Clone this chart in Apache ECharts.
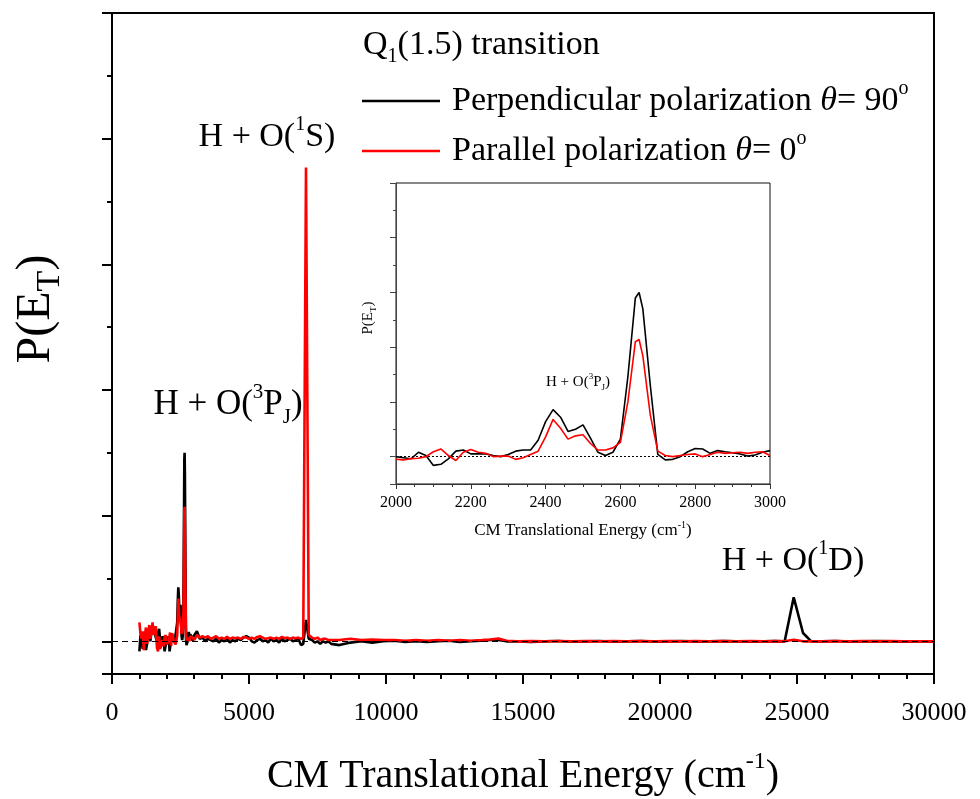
<!DOCTYPE html>
<html>
<head>
<meta charset="utf-8">
<script src="https://cdn.jsdelivr.net/npm/echarts@6/dist/echarts.min.js"></script>
<style>html,body{margin:0;padding:0;background:#fff}#c{width:980px;height:799px}</style>
</head>
<body>
<div id="c"></div>
<script>
// ---------------- data ----------------
const seriesNames = ['Perpendicular polarization', 'Parallel polarization'];

// 1000 - 1960 cm-1 (noisy onset)
const energyLow = [1000,1040,1080,1120,1160,1200,1240,1280,1320,1360,1400,1440,1480,1520,1560,1600,1640,1680,1720,1760,1800,1840,1880,1920,1960];
const perpLow   = [-0.08,0.05,0.02,-0.06,-0.02,0.06,-0.07,-0.02,0.10,0.06,0.00,0.08,0.13,0.10,0.09,0.03,0.00,0.07,0.10,0.00,-0.03,0.04,0.02,-0.08,-0.03];
const paraLow   = [0.15,0.06,0.02,0.08,-0.07,0.05,0.11,-0.02,0.06,0.13,0.02,0.08,0.15,0.05,0.10,0.12,-0.05,-0.08,0.04,-0.06,-0.05,0.01,-0.04,0.03,0.05];

// 2000 - 3000 cm-1 (region shown in the inset)
const energyInset = [2000,2020,2040,2060,2080,2100,2120,2140,2160,2180,2200,2220,2240,2260,2280,2300,2320,2340,2360,2380,2400,2420,2440,2460,2480,2500,2520,2540,2560,2580,2600,2620,2640,2650,2660,2680,2700,2720,2740,2760,2780,2800,2820,2840,2860,2880,2900,2920,2940,2960,2980,3000];
const perpInset   = [0,-0.01,-0.02,0.04,0.01,-0.08,-0.07,-0.02,0.05,0.06,0.025,0.025,0.025,0.01,0,0.02,0.05,0.06,0.06,0.15,0.32,0.43,0.36,0.23,0.25,0.29,0.17,0.04,0.01,0.04,0.16,0.73,1.45,1.5,1.35,0.65,0.02,-0.03,-0.025,0,0.045,0.075,0.07,0.03,0.055,0.045,0.036,0.025,0.005,0.015,0.04,0.055];
const paraInset   = [-0.024,-0.03,-0.018,-0.015,0,0.045,0.07,0.01,-0.035,0.04,0.065,0.04,0.03,0,0.005,0.005,-0.025,-0.01,0.02,0.05,0.18,0.34,0.26,0.16,0.19,0.2,0.12,0.06,0.06,0.08,0.13,0.5,1.05,1.07,0.92,0.38,0.05,0.01,0,0.01,0.02,0.025,0,0.02,0.04,0.03,0.035,0.04,0.03,0.04,0.045,0.01];

// 3100 - 8000 cm-1 (O(1S) channel)
const energyMid = [3100,3200,3300,3400,3500,3600,3700,3800,3900,4000,4100,4200,4300,4400,4500,4600,4700,4800,4900,5000,5100,5200,5300,5400,5500,5600,5700,5800,5900,6000,6100,6200,6300,6400,6500,6600,6700,6800,6900,6980,7080,7180,7300,7400,7500,7600,7700,7800,7900,8000];
const perpMid   = [0.08,0.02,0.03,0,0.02,0.01,0,0.02,-0.01,0.01,0,0.02,-0.01,0.01,0,0.02,0.01,0.03,0.04,0.03,0,-0.01,0.01,0.02,0,0.01,-0.01,0.02,0,0.01,-0.01,0.02,0,0.01,0.02,0,0.01,0.02,-0.03,-0.02,0.17,0.02,0.01,-0.01,0,-0.02,0,-0.01,0,-0.02];
const paraMid   = [0.05,0.03,0.04,0.03,0.04,0.02,0.03,0.04,0.02,0.03,0.02,0.035,0.02,0.03,0.025,0.03,0.02,0.035,0.03,0.02,0.03,0.02,0.035,0.04,0.03,0.02,0.025,0.03,0.02,0.03,0.02,0.035,0.025,0.03,0.02,0.03,0.025,0.03,0.02,0.03,3.77,0.05,0.03,0.02,0.03,0.01,0.02,0.02,0.01,0.01];

// 8300 - 30000 cm-1 (O(1D) channel)
const energyHigh = [8300,8700,9100,9500,9900,10300,10700,11100,11500,11900,12300,12700,13100,13500,13800,14100,14400,14800,15300,15800,16300,16800,17300,17800,18300,18800,19300,19800,20300,20800,21300,21800,22300,22800,23300,23800,24200,24550,24880,25220,25520,25900,26400,26900,27400,27900,28400,28900,29400,30000];
const perpHigh   = [-0.03,-0.01,0,-0.01,0,0.005,-0.005,0,-0.005,0,0.005,-0.005,0,0.005,0.01,0.01,0,0,-0.005,0,0.003,-0.003,0,0.003,-0.003,0,0.002,-0.002,0,0.002,-0.002,0,0.002,0,-0.002,0,0.002,0,0.35,0.066,0,0,0.002,-0.002,0,0.002,0,-0.002,0,0];
const paraHigh   = [0.01,0.02,0.01,0.015,0.01,0.01,0.005,0.01,0.005,0.01,0.005,0.01,0.005,0.01,0.015,0.022,0.005,0,0.002,0,0.003,0,0.002,0,0.002,0,0.002,0,0.002,0,0.002,0,0.002,0,0.002,0,0.002,0,0.013,0,0,0,0.002,0,0.002,0,0.002,0,0,0];

// axis ranges / ticks
const mainX = {min: 0, max: 30000, interval: 5000};
const mainY = {min: -0.26, max: 5};
const insetX = {min: 2000, max: 3000, interval: 200};
const insetY = {min: -0.25, max: 2.5};

// ---------------- build ----------------
function pairs(xs, ys) { return xs.map((x, i) => [x, ys[i]]); }
const perpAll = pairs(energyLow, perpLow).concat(pairs(energyInset, perpInset), pairs(energyMid, perpMid), pairs(energyHigh, perpHigh));
const paraAll = pairs(energyLow, paraLow).concat(pairs(energyInset, paraInset), pairs(energyMid, paraMid), pairs(energyHigh, paraHigh));

const FONT = 'Liberation Serif';
function rich(s, subRatio) {
  const r = subRatio || 0.6;
  return {
    a:   {fontFamily: FONT, fontSize: s, color: '#000', lineHeight: Math.round(s * 1.3), verticalAlign: 'middle'},
    p:   {fontFamily: FONT, fontSize: s, color: '#000', lineHeight: Math.round(s * 1.3), verticalAlign: 'middle', padding: [0, 0, 0, 7]},
    i:   {fontFamily: FONT, fontSize: s, color: '#000', fontStyle: 'italic', lineHeight: Math.round(s * 1.3), verticalAlign: 'middle'},
    sup: {fontFamily: FONT, fontSize: Math.round(s * 0.6), color: '#000', lineHeight: Math.round(s * 0.88), verticalAlign: 'top'},
    sub: {fontFamily: FONT, fontSize: Math.round(s * r), color: '#000', lineHeight: Math.round(s * 0.76), verticalAlign: 'bottom'}
  };
}
function txt(x, y, text, size, extra, subRatio) {
  return Object.assign({
    type: 'text', x: x, y: y, z: 100,
    style: {text: text, rich: rich(size, subRatio), align: 'center', verticalAlign: 'middle', textAlign: 'center', textVerticalAlign: 'middle'}
  }, extra || {});
}
const plain = v => String(v);

const chart = echarts.init(document.getElementById('c'), null, {renderer: 'canvas'});
const option = {
  animation: false,
  backgroundColor: '#fff',
  grid: [
    {left: 112, top: 13, width: 822, height: 661, show: true, borderColor: '#000', borderWidth: 2, backgroundColor: 'rgba(0,0,0,0)', containLabel: false, outerBoundsMode: 'none'},
    {left: 396, top: 183, width: 374, height: 301, show: true, borderColor: '#111', borderWidth: 1, backgroundColor: '#fff', z: 5, containLabel: false, outerBoundsMode: 'none'}
  ],
  legend: {
    left: 362, top: 79, orient: 'vertical', padding: 0,
    icon: 'rect', itemWidth: 78, itemHeight: 2.5, itemGap: 11,
    data: seriesNames,
    formatter: function (n) {
      return n === seriesNames[0]
        ? '{p|Perpendicular polarization }{i|θ}{a|= 90}{sup|o}'
        : '{p|Parallel polarization }{i|θ}{a|= 0}{sup|o}';
    },
    textStyle: {rich: rich(34)},
    selectedMode: false
  },
  xAxis: [
    {
      type: 'value', gridIndex: 0, min: mainX.min, max: mainX.max, interval: mainX.interval,
      axisLine: {show: true, onZero: false, lineStyle: {color: '#000', width: 2}},
      axisTick: {show: true, inside: false, length: 10, lineStyle: {color: '#000', width: 2}},
      minorTick: {show: true, splitNumber: 5, length: 5, lineStyle: {color: '#000', width: 2}},
      splitLine: {show: false},
      axisLabel: {fontFamily: FONT, fontSize: 26, color: '#000', margin: 26, formatter: plain},
      name: '{a|CM Translational Energy (cm}{sup|-1}{a|)}',
      nameLocation: 'middle', nameGap: 76,
      nameTextStyle: {rich: rich(40)}
    },
    {
      type: 'value', gridIndex: 1, min: insetX.min, max: insetX.max, interval: insetX.interval,
      axisLine: {show: true, onZero: false, lineStyle: {color: '#333', width: 1}},
      axisTick: {show: true, inside: false, length: 5, lineStyle: {color: '#333', width: 1}},
      minorTick: {show: true, splitNumber: 4, length: 3, lineStyle: {color: '#333', width: 1}},
      splitLine: {show: false},
      axisLabel: {fontFamily: FONT, fontSize: 16, color: '#000', margin: 11, formatter: plain},
      name: '{a|CM Translational Energy (cm}{sup|-1}{a|)}',
      nameLocation: 'middle', nameGap: 36,
      nameTextStyle: {rich: rich(17)},
      z: 6
    }
  ],
  yAxis: [
    {
      type: 'value', gridIndex: 0, min: mainY.min, max: mainY.max, splitNumber: 5,
      axisLine: {show: true, onZero: false, lineStyle: {color: '#000', width: 2}},
      axisTick: {show: true, inside: false, length: 10, lineStyle: {color: '#000', width: 2}},
      minorTick: {show: true, splitNumber: 2, length: 5, lineStyle: {color: '#000', width: 2}},
      splitLine: {show: false},
      axisLabel: {show: false}
    },
    {
      type: 'value', gridIndex: 1, min: insetY.min, max: insetY.max, splitNumber: 5,
      axisLine: {show: true, onZero: false, lineStyle: {color: '#444', width: 1}},
      axisTick: {show: true, inside: false, length: 6, lineStyle: {color: '#444', width: 1}},
      minorTick: {show: true, splitNumber: 2, length: 3, lineStyle: {color: '#444', width: 1}},
      splitLine: {show: false},
      axisLabel: {show: false},
      z: 6
    }
  ],
  series: [
    {
      name: seriesNames[0], type: 'line', xAxisIndex: 0, yAxisIndex: 0, data: perpAll,
      showSymbol: false, symbol: 'none', lineStyle: {color: '#000', width: 2.6}, itemStyle: {color: '#000'}, z: 2,
      markLine: {silent: true, symbol: 'none', label: {show: false}, lineStyle: {color: '#000', width: 1, type: [6, 4]}, data: [{yAxis: 0}]}
    },
    {
      name: seriesNames[1], type: 'line', xAxisIndex: 0, yAxisIndex: 0, data: paraAll,
      showSymbol: false, symbol: 'none', lineStyle: {color: '#ff0000', width: 2.6}, itemStyle: {color: '#ff0000'}, z: 3
    },
    {
      name: seriesNames[0], type: 'line', xAxisIndex: 1, yAxisIndex: 1, data: pairs(energyInset, perpInset),
      showSymbol: false, symbol: 'none', lineStyle: {color: '#000', width: 1.6}, itemStyle: {color: '#000'}, z: 7,
      markLine: {silent: true, symbol: 'none', label: {show: false}, lineStyle: {color: '#000', width: 1, type: [2, 2]}, data: [{yAxis: 0}]}
    },
    {
      name: seriesNames[1], type: 'line', xAxisIndex: 1, yAxisIndex: 1, data: pairs(energyInset, paraInset),
      showSymbol: false, symbol: 'none', lineStyle: {color: '#ff0000', width: 1.6}, itemStyle: {color: '#ff0000'}, z: 8
    }
  ],
  graphic: [
    txt(36, 309, '{a|P(E}{sub|T}{a|)}', 48, {rotation: Math.PI / 2}, 0.7),
    txt(368, 318, '{a|P(E}{sub|T}{a|)}', 15, {rotation: Math.PI / 2}),
    txt(267, 137, '{a|H + O(}{sup|1}{a|S)}', 34),
    txt(228, 405, '{a|H + O(}{sup|3}{a|P}{sub|J}{a|)}', 35),
    txt(793, 561, '{a|H + O(}{sup|1}{a|D)}', 34),
    txt(578, 382, '{a|H + O(}{sup|3}{a|P}{sub|J}{a|)}', 15),
    {
      type: 'text', x: 363, y: 45, z: 100,
      style: {text: '{a|Q}{sub|1}{a|(1.5) transition}', rich: rich(34), align: 'left', verticalAlign: 'middle', textAlign: 'left', textVerticalAlign: 'middle'}
    }
  ]
};
chart.setOption(option);
</script>
</body>
</html>
